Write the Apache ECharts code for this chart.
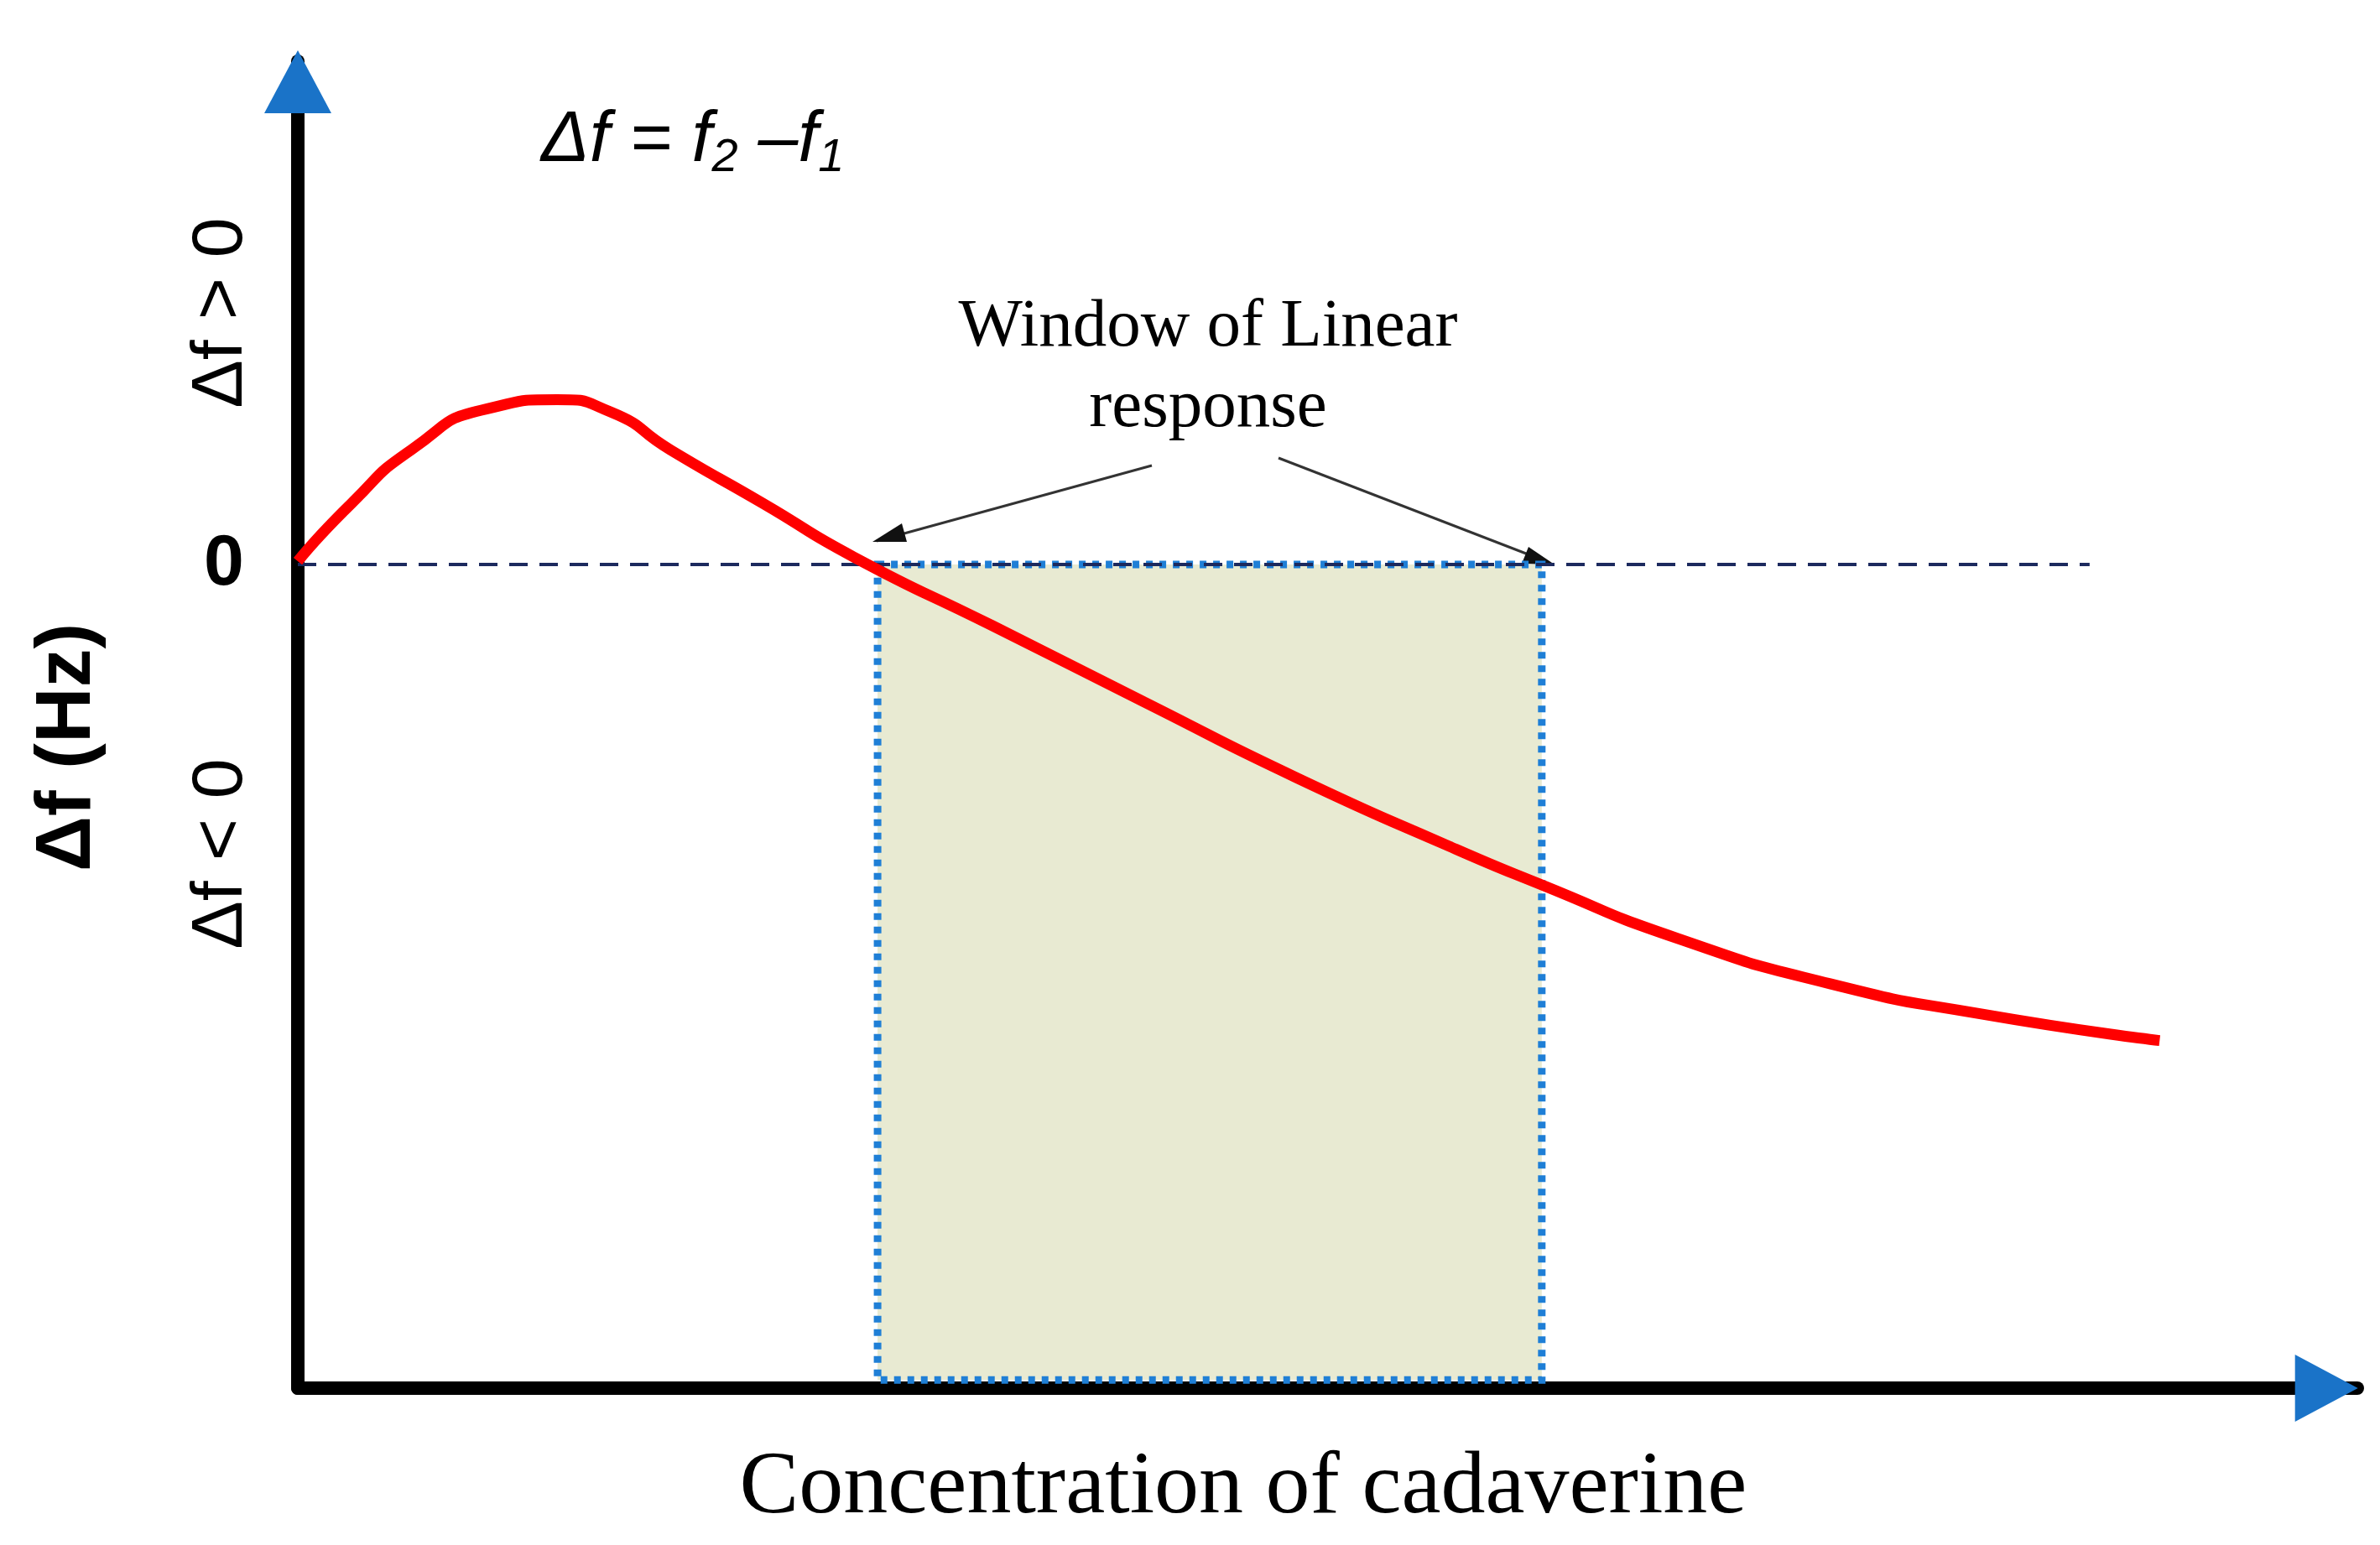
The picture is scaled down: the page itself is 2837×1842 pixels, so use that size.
<!DOCTYPE html>
<html>
<head>
<meta charset="utf-8">
<script src="https://cdn.jsdelivr.net/npm/echarts@6/dist/echarts.min.js"></script>
<style>html,body{margin:0;background:#fff}#main{width:2837px;height:1842px}</style>
</head>
<body>
<div id="main"></div>
<script>
// response curve, arbitrary units (x: concentration, y: delta f)
const curveX = [0, 2.6, 5.5, 9.2, 12.6, 15.2, 18.1, 22.6, 27.0, 33.7, 41.1, 48.5, 55.9, 60.4, 67.0, 74.4, 81.8, 90.4];
const curveY = [0.4, 7.4, 13.9, 18.9, 20.0, 18.5, 13.9, 7.4, 0.9, -7.4, -16.7, -25.9, -34.2, -38.9, -45.4, -50.9, -54.6, -57.8];
const windowRange = [28.15, 60.4];
const zeroLineEnd = 87;

const chart = echarts.init(document.getElementById("main"));
const serif = "Liberation Serif";
const sans = "Liberation Sans";

let option = {
    backgroundColor: "#fff",
    animation: false,
    grid: {left: 355, right: 27, top: 73, bottom: 187},
    xAxis: {
        type: "value", min: 0, max: 100,
        axisLine: {onZero: false, lineStyle: {color: "#000", width: 16}},
        axisTick: {show: false}, axisLabel: {show: false}, splitLine: {show: false}
    },
    yAxis: {
        type: "value", min: -100, max: 61.1,
        axisLine: {show: true, onZero: false, lineStyle: {color: "#000", width: 16}},
        axisTick: {show: false}, axisLabel: {show: false}, splitLine: {show: false}
    },
    series: [{
        type: "line",
        data: curveX.map((x, i) => [x, curveY[i]]),
        smooth: 0.6,
        showSymbol: false,
        z: 5,
        lineStyle: {color: "#ff0000", width: 13},
        markArea: {
            silent: true,
            itemStyle: {color: "#e8ead2", borderColor: "#1f7fd6", borderWidth: 9, borderType: [8, 8]},
            data: [[{coord: [windowRange[0], 0]}, {coord: [windowRange[1], -99]}]]
        },
        markLine: {
            silent: true, symbol: "none", label: {show: false},
            lineStyle: {color: "#1c2a5e", width: 4, type: [22, 14]},
            data: [[{coord: [0, 0]}, {coord: [zeroLineEnd, 0]}]]
        },
        markPoint: {
            silent: true, label: {show: false},
            itemStyle: {color: "#1a73c8"},
            data: [
                {coord: [98.5, -100], symbol: "triangle", symbolSize: [80, 75], symbolRotate: -90},
                {coord: [0, 58.6], symbol: "triangle", symbolSize: [80, 75]}
            ]
        }
    }],
    graphic: [
        {type: "text", left: 645, top: 125, style: {
            text: "{i|Δf = f}{s|2}{i| –f}{s|1}",
            rich: {
                i: {fontFamily: sans, fontStyle: "italic", fontSize: 86, fill: "#000"},
                s: {fontFamily: sans, fontStyle: "italic", fontSize: 56, fill: "#000", padding: [40, 0, 0, 0]}
            }
        }},
        {type: "text", x: 1440, y: 391, style: {text: "Window of Linear", fontFamily: serif, fontSize: 81, fill: "#000", textAlign: "center", textVerticalAlign: "middle"}},
        {type: "text", x: 1440, y: 487, style: {text: "response", fontFamily: serif, fontSize: 81, fill: "#000", textAlign: "center", textVerticalAlign: "middle"}},
        {type: "line", shape: {x1: 1373, y1: 555, x2: 1045, y2: 645}, style: {stroke: "#333", lineWidth: 3}},
        {type: "polygon", shape: {points: [[1040, 646], [1075, 624], [1081, 646]]}, style: {fill: "#111"}},
        {type: "line", shape: {x1: 1524, y1: 546, x2: 1845, y2: 670}, style: {stroke: "#333", lineWidth: 3}},
        {type: "polygon", shape: {points: [[1853, 673], [1814, 672], [1822, 652]]}, style: {fill: "#111"}},
        {type: "text", x: 267, y: 673, style: {text: "0", fontFamily: sans, fontWeight: "bold", fontSize: 86, fill: "#000", textAlign: "center", textVerticalAlign: "middle"}},
        {type: "text", x: 264, y: 373, rotation: Math.PI / 2, style: {text: "Δf > 0", fontFamily: sans, fontSize: 86, fill: "#000", textAlign: "center", textVerticalAlign: "middle"}},
        {type: "text", x: 264, y: 1018, rotation: Math.PI / 2, style: {text: "Δf < 0", fontFamily: sans, fontSize: 86, fill: "#000", textAlign: "center", textVerticalAlign: "middle"}},
        {type: "text", x: 82, y: 891, rotation: Math.PI / 2, style: {text: "Δf (Hz)", fontFamily: sans, fontWeight: "bold", fontSize: 92, fill: "#000", textAlign: "center", textVerticalAlign: "middle"}},
        {type: "text", x: 1482, y: 1775, style: {text: "Concentration of cadaverine", fontFamily: serif, fontSize: 106, fill: "#000", textAlign: "center", textVerticalAlign: "middle"}}
    ]
};

chart.setOption(option);
</script>
</body>
</html>
